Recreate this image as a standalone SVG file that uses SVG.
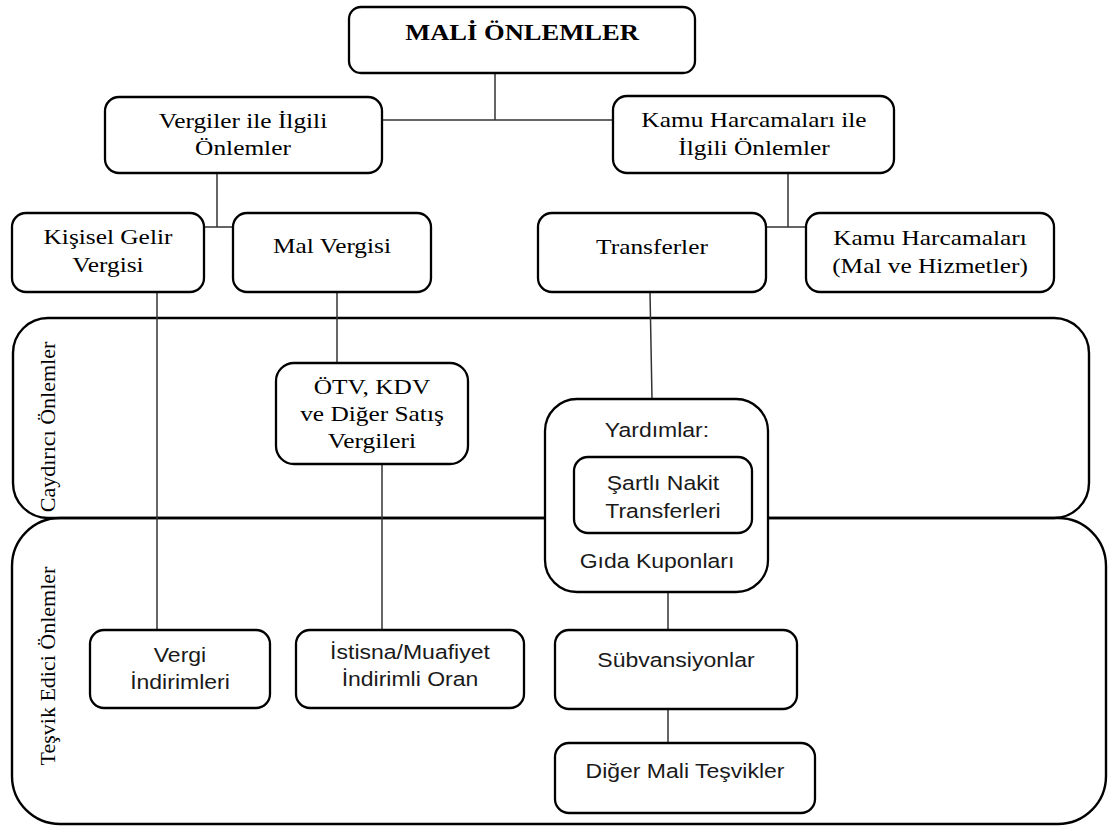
<svg xmlns="http://www.w3.org/2000/svg" width="1108" height="827" viewBox="0 0 1108 827">
<style>
.box{fill:#fff;stroke:#000;stroke-width:2.3}
.band{fill:none;stroke:#000;stroke-width:2.4}
.conn{stroke:#333;stroke-width:1.5;fill:none}
.serif{font-family:"Liberation Serif","Times New Roman",serif;font-size:21.5px;fill:#000;text-anchor:middle}
.bold{font-weight:bold;font-size:22.5px}
.vert{font-size:22px}
.sans{font-family:"Liberation Sans",Arial,sans-serif;font-size:19.5px;fill:#1a1a1a;text-anchor:middle}
.sx{transform-box:fill-box;transform-origin:center;transform:scaleX(1.18)}
</style>
<rect width="1108" height="827" fill="#fff"/>
<g id="bands">
  <rect class="band" x="13" y="318" width="1076" height="200" rx="35"/>
  <rect class="band" x="12" y="518" width="1094" height="306" rx="48"/>
  <text class="serif vert" transform="translate(55,427) rotate(-90)">Caydırıcı Önlemler</text>
  <text class="serif vert" transform="translate(55,666) rotate(-90)">Teşvik Edici Önlemler</text>
</g>
<g id="connectors">
  <path class="conn" d="M495,73V120M382,120H613"/>
  <path class="conn" d="M217,173V227M204,227H233"/>
  <path class="conn" d="M788,173V227M766,227H806"/>
  <path class="conn" d="M157,292V630"/>
  <path class="conn" d="M337,292V363"/>
  <path class="conn" d="M382,464V630"/>
  <path class="conn" d="M650,292L652,399"/>
  <path class="conn" d="M668,592V630M668,709V743"/>
</g>
<g id="mali">
  <rect class="box" x="349" y="7" width="346" height="66" rx="12"/>
  <text class="serif bold sx" x="522" y="40">MALİ ÖNLEMLER</text>
</g>
<g id="vergiler">
  <rect class="box" x="105" y="97" width="277" height="76" rx="14"/>
  <text class="serif sx" x="243" y="128">Vergiler ile İlgili</text>
  <text class="serif sx" x="243" y="155">Önlemler</text>
</g>
<g id="kamu-ile">
  <rect class="box" x="613" y="96" width="281" height="77" rx="14"/>
  <text class="serif sx" x="754" y="127">Kamu Harcamaları ile</text>
  <text class="serif sx" x="754" y="155">İlgili Önlemler</text>
</g>
<g id="kisisel">
  <rect class="box" x="12" y="213" width="192" height="79" rx="14"/>
  <text class="serif sx" x="108" y="244">Kişisel Gelir</text>
  <text class="serif sx" x="108" y="272">Vergisi</text>
</g>
<g id="malvergisi">
  <rect class="box" x="233" y="213" width="198" height="79" rx="14"/>
  <text class="serif sx" x="332" y="253">Mal Vergisi</text>
</g>
<g id="transferler">
  <rect class="box" x="538" y="213" width="228" height="79" rx="14"/>
  <text class="serif sx" x="652" y="254">Transferler</text>
</g>
<g id="kamu-harcamalari">
  <rect class="box" x="806" y="213" width="248" height="79" rx="14"/>
  <text class="serif sx" x="930" y="245">Kamu Harcamaları</text>
  <text class="serif sx" x="930" y="273">(Mal ve Hizmetler)</text>
</g>
<g id="otv">
  <rect class="box" x="276" y="363" width="192" height="101" rx="18"/>
  <text class="serif sx" x="372" y="394">ÖTV, KDV</text>
  <text class="serif sx" x="372" y="421">ve Diğer Satış</text>
  <text class="serif sx" x="372" y="448">Vergileri</text>
</g>
<g id="yardimlar">
  <rect class="box" x="545" y="399" width="223" height="193" rx="32"/>
  <text class="sans sx" x="657" y="437">Yardımlar:</text>
  <text class="sans sx" x="657" y="568">Gıda Kuponları</text>
</g>
<g id="sartli">
  <rect class="box" x="574" y="457" width="178" height="76" rx="14"/>
  <text class="sans sx" x="663" y="490">Şartlı Nakit</text>
  <text class="sans sx" x="663" y="518">Transferleri</text>
</g>
<g id="vergi-indirimleri">
  <rect class="box" x="90" y="630" width="180" height="78" rx="14"/>
  <text class="sans sx" x="180" y="662">Vergi</text>
  <text class="sans sx" x="180" y="689">İndirimleri</text>
</g>
<g id="istisna">
  <rect class="box" x="296" y="630" width="228" height="78" rx="14"/>
  <text class="sans sx" x="410" y="659">İstisna/Muafiyet</text>
  <text class="sans sx" x="410" y="686">İndirimli Oran</text>
</g>
<g id="subvansiyonlar">
  <rect class="box" x="555" y="630" width="242" height="79" rx="14"/>
  <text class="sans sx" x="676" y="667">Sübvansiyonlar</text>
</g>
<g id="diger">
  <rect class="box" x="555" y="743" width="260" height="70" rx="14"/>
  <text class="sans sx" x="685" y="778">Diğer Mali Teşvikler</text>
</g>
</svg>
